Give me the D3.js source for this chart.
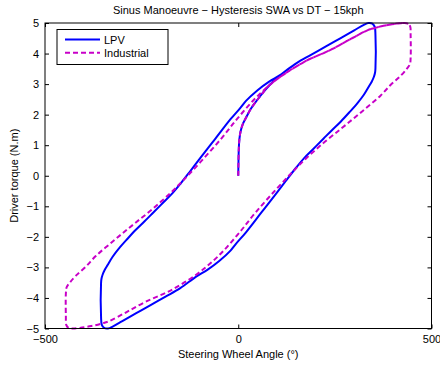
<!DOCTYPE html>
<html>
<head>
<meta charset="utf-8">
<script src="https://cdn.jsdelivr.net/npm/d3@7"></script>
<style>
  body { margin: 0; background: #fff; }
  svg { display: block; }
  text { font-family: "Liberation Sans", Arial, Helvetica, sans-serif; }
</style>
</head>
<body>
<div id="root"></div>
<script>
const W = 440;
const H = 367;

const title = 'Sinus Manoeuvre \u2212 Hysteresis SWA vs DT \u2212 15kph';
const xLabel = 'Steering Wheel Angle (\u00b0)';
const yLabel = 'Driver torque (N.m)';
const xTicks = [-500, 0, 500];
const yTicks = [-5, -4, -3, -2, -1, 0, 1, 2, 3, 4, 5];
const seriesNames = ['LPV', 'Industrial'];

// LPV run: start-up from rest, then one full hysteresis cycle
const lpvSwa = [
  0, 0.5, 1.5, 3, 6, 12, 20, 33, 49, 65, 82, 100,
  109, 150, 187, 228, 264, 300, 325, 337, 347, 353, 355,
  355, 354, 351, 345, 338, 325, 308, 287, 265, 243, 221, 196, 170, 150, 123,
  97, 60, 20, -6, -20, -50, -80, -109, -150, -187, -228, -264, -300, -325, -337, -347, -353, -355,
  -355, -354, -351, -345, -338, -325, -308, -287, -265, -243, -221, -196, -170, -150, -123,
  -97, -60, -20, 6, 20, 50, 80, 109, 150, 187, 228, 264, 300, 325, 337, 347, 353
];
const lpvTorque = [
  0, 0.4, 0.9, 1.2, 1.45, 1.7, 1.9, 2.2, 2.48, 2.74, 2.98, 3.2,
  3.3, 3.68, 3.95, 4.24, 4.5, 4.76, 4.94, 5, 4.98, 4.88, 4.6,
  3.52, 3.38, 3.24, 3.07, 2.92, 2.65, 2.37, 2.07, 1.77, 1.5, 1.22, 0.9, 0.57, 0.27, -0.17,
  -0.6, -1.2, -1.85, -2.23, -2.45, -2.8, -3.08, -3.3, -3.68, -3.95, -4.24, -4.5, -4.76, -4.94, -5, -4.98, -4.88, -4.6,
  -3.52, -3.38, -3.24, -3.07, -2.92, -2.65, -2.37, -2.07, -1.77, -1.5, -1.22, -0.9, -0.57, -0.27, 0.17,
  0.6, 1.2, 1.85, 2.23, 2.45, 2.8, 3.08, 3.3, 3.68, 3.95, 4.24, 4.5, 4.76, 4.94, 5, 4.98, 4.88
];

// Industrial controller, same manoeuvre
const indSwa = [
  0, 0.5, 1.5, 3, 6, 12, 20, 33, 49, 62,
  75, 109, 174, 239, 290, 334, 351, 380, 410, 430, 440, 445, 446,
  446, 444, 436, 420, 394, 368, 334, 299, 265, 221, 174, 140, 97, 45, 3,
  -40, -75, -109, -174, -239, -290, -334, -351, -380, -410, -430, -440, -445, -446,
  -446, -444, -436, -420, -394, -368, -334, -299, -265, -221, -174, -140, -97, -45, -3,
  40, 75, 109, 174, 239, 290, 334, 351, 380, 410, 430, 440
];
const indTorque = [
  0, 0.4, 0.9, 1.2, 1.45, 1.7, 1.9, 2.2, 2.48, 2.68,
  2.9, 3.24, 3.75, 4.12, 4.47, 4.76, 4.83, 4.92, 4.98, 5, 4.97, 4.88, 4.6,
  3.85, 3.65, 3.5, 3.27, 2.97, 2.62, 2.25, 1.88, 1.53, 1.08, 0.55, 0.12, -0.46, -1.2, -1.86,
  -2.48, -2.9, -3.24, -3.75, -4.12, -4.47, -4.76, -4.83, -4.92, -4.98, -5, -4.97, -4.88, -4.6,
  -3.85, -3.65, -3.5, -3.27, -2.97, -2.62, -2.25, -1.88, -1.53, -1.08, -0.55, -0.12, 0.46, 1.2, 1.86,
  2.48, 2.9, 3.24, 3.75, 4.12, 4.47, 4.76, 4.83, 4.92, 4.98, 5, 4.97
];

const margin = { top: 23, right: 8.5, bottom: 38.5, left: 45 };
const pw = W - margin.left - margin.right;
const ph = H - margin.top - margin.bottom;

const svg = d3.select('#root').append('svg')
  .attr('width', W)
  .attr('height', H);

const x = d3.scaleLinear().domain([-500, 500]).range([0, pw]);
const y = d3.scaleLinear().domain([-5, 5]).range([ph, 0]);

const g = svg.append('g').attr('transform', `translate(${margin.left},${margin.top})`);

const fmt = d => (d < 0 ? '\u2212' + Math.abs(d) : String(d));

const styleAxis = sel => {
  sel.select('.domain').remove();
  sel.selectAll('line').attr('stroke', '#000');
  sel.selectAll('text').attr('font-size', 11).attr('fill', '#000')
    .style('font-family', '"Liberation Sans", Arial, sans-serif');
};

// inward ticks on all four sides
g.append('g').attr('transform', `translate(0,${ph})`)
  .call(d3.axisBottom(x).tickValues(xTicks).tickFormat(fmt).tickSize(-4).tickPadding(7))
  .call(styleAxis);
g.append('g')
  .call(d3.axisTop(x).tickValues(xTicks).tickFormat('').tickSize(-4))
  .call(styleAxis);
g.append('g')
  .call(d3.axisLeft(y).tickValues(yTicks).tickFormat(fmt).tickSize(-4).tickPadding(6))
  .call(styleAxis);
g.append('g').attr('transform', `translate(${pw},0)`)
  .call(d3.axisRight(y).tickValues(yTicks).tickFormat('').tickSize(-4))
  .call(styleAxis);

svg.append('clipPath').attr('id', 'plot-clip')
  .append('rect').attr('x', -2).attr('y', -2).attr('width', pw + 4).attr('height', ph + 4);

const line = d3.line()
  .x(d => x(d[0]))
  .y(d => y(d[1]))
  .curve(d3.curveCatmullRom.alpha(0.5));

const lpv = lpvSwa.map((v, i) => [v, lpvTorque[i]]);
const ind = indSwa.map((v, i) => [v, indTorque[i]]);

const plot = g.append('g').attr('clip-path', 'url(#plot-clip)');

plot.append('path')
  .datum(lpv)
  .attr('d', line)
  .attr('fill', 'none')
  .attr('stroke', '#0000ff')
  .attr('stroke-width', 2)
  .attr('stroke-linejoin', 'round');

plot.append('path')
  .datum(ind)
  .attr('d', line)
  .attr('fill', 'none')
  .attr('stroke', '#c800c8')
  .attr('stroke-width', 2)
  .attr('stroke-dasharray', '5,3');

// frame
g.append('rect')
  .attr('width', pw)
  .attr('height', ph)
  .attr('fill', 'none')
  .attr('stroke', '#000')
  .attr('stroke-width', 1);

// legend
const legend = svg.append('g').attr('transform', 'translate(57,29.5)');
legend.append('rect')
  .attr('width', 111)
  .attr('height', 35)
  .attr('fill', '#fff')
  .attr('stroke', '#000');
const legendStyles = [
  { color: '#0000ff', dash: null },
  { color: '#c800c8', dash: '5,3' }
];
seriesNames.forEach((name, i) => {
  const ly = 10 + i * 13.3;
  legend.append('line')
    .attr('x1', 8).attr('x2', 43)
    .attr('y1', ly).attr('y2', ly)
    .attr('stroke', legendStyles[i].color)
    .attr('stroke-width', 2)
    .attr('stroke-dasharray', legendStyles[i].dash);
  legend.append('text')
    .attr('x', 47)
    .attr('y', ly + 4)
    .attr('font-size', 11)
    .text(name);
});

svg.append('text')
  .attr('x', margin.left + pw / 2)
  .attr('y', 13.5)
  .attr('text-anchor', 'middle')
  .attr('font-size', 11)
  .text(title);

svg.append('text')
  .attr('x', margin.left + pw / 2)
  .attr('y', 357.5)
  .attr('text-anchor', 'middle')
  .attr('font-size', 11)
  .text(xLabel);

svg.append('text')
  .attr('transform', `translate(18,${margin.top + ph / 2}) rotate(-90)`)
  .attr('text-anchor', 'middle')
  .attr('font-size', 11)
  .text(yLabel);
</script>
</body>
</html>
